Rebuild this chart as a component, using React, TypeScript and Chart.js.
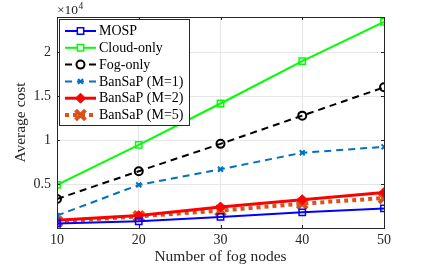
import React, { useEffect, useRef } from "react";
import { Chart, registerables } from "chart.js";
import { drawPoint } from "chart.js/helpers";

Chart.register(...registerables);

const fogNodes = [10, 20, 30, 40, 50];
const mosp = [510, 770, 1260, 1780, 2230];
const cloudOnly = [4900, 9460, 14160, 18980, 23450];
const fogOnly = [3300, 6460, 9570, 12780, 16000];
const bansapM1 = [1410, 4900, 6680, 8560, 9230];
const bansapM2 = [880, 1410, 2390, 3220, 4040];
const bansapM5 = [730, 1330, 1980, 2770, 3410];
const yTicks = [5000, 10000, 15000, 20000];
const xTicks = [10, 20, 30, 40, 50];

const FONT = "'Liberation Serif', 'Times New Roman', serif";

type S = {
  label: string;
  data: number[];
  color: string;
  width: number;
  dash: number[];
  style: string;
  radius: number;
  fill: boolean;
  pw: number;
};

const series: S[] = [
  { label: "MOSP", data: mosp, color: "#0000ff", width: 2, dash: [], style: "rect", radius: 4.5, fill: false, pw: 1.5 },
  { label: "Cloud-only", data: cloudOnly, color: "#00ff00", width: 2, dash: [], style: "rect", radius: 4.5, fill: false, pw: 1.5 },
  { label: "Fog-only", data: fogOnly, color: "#000000", width: 2, dash: [7, 5], style: "circle", radius: 4, fill: false, pw: 2 },
  { label: "BanSaP (M=1)", data: bansapM1, color: "#0072BD", width: 2, dash: [7, 5], style: "crossRot", radius: 3.5, fill: false, pw: 2 },
  { label: "BanSaP (M=2)", data: bansapM2, color: "#ff0000", width: 3, dash: [], style: "rectRot", radius: 5, fill: true, pw: 1 },
  { label: "BanSaP (M=5)", data: bansapM5, color: "#D95319", width: 4, dash: [4, 4], style: "crossRot", radius: 7, fill: false, pw: 4 },
];

const decorPlugin = {
  id: "decor",
  afterDraw(chart: any) {
    const { ctx, chartArea: a, scales } = chart;
    ctx.save();
    ctx.strokeStyle = "#262626";
    ctx.lineWidth = 1;
    ctx.strokeRect(a.left + 0.5, a.top + 0.5, a.right - a.left, a.bottom - a.top);
    ctx.beginPath();
    for (const t of xTicks) {
      const x = Math.round(scales.x.getPixelForValue(t)) + 0.5;
      ctx.moveTo(x, a.bottom); ctx.lineTo(x, a.bottom - 3);
      ctx.moveTo(x, a.top); ctx.lineTo(x, a.top + 3);
    }
    for (const t of yTicks) {
      const y = Math.round(scales.y.getPixelForValue(t)) + 0.5;
      ctx.moveTo(a.left, y); ctx.lineTo(a.left + 3, y);
      ctx.moveTo(a.right, y); ctx.lineTo(a.right - 3, y);
    }
    ctx.stroke();

    ctx.fillStyle = "#262626";
    ctx.textBaseline = "alphabetic";
    ctx.textAlign = "left";
    ctx.font = `13.5px ${FONT}`;
    ctx.fillText("\u00d710", a.left, 14);
    const w = ctx.measureText("\u00d710").width;
    ctx.font = `9.5px ${FONT}`;
    ctx.fillText("4", a.left + w + 0.5, 8.5);

    ctx.font = `15.5px ${FONT}`;
    ctx.textAlign = "center";
    ctx.textBaseline = "middle";
    ctx.fillText("Number of fog nodes", (a.left + a.right) / 2, 257);
    ctx.save();
    ctx.translate(21, (a.top + a.bottom) / 2);
    ctx.rotate(-Math.PI / 2);
    ctx.fillText("Average cost", 0, 0);
    ctx.restore();

    const lx = 59, ly = 19, lw = 130, lh = 106;
    ctx.fillStyle = "#ffffff";
    ctx.fillRect(lx, ly, lw, lh);
    ctx.strokeStyle = "#262626";
    ctx.lineWidth = 1;
    ctx.strokeRect(lx + 0.5, ly + 0.5, lw, lh);
    series.forEach((s, i) => {
      const y = 31 + i * 16.8;
      ctx.save();
      ctx.strokeStyle = s.color;
      ctx.lineWidth = s.width;
      ctx.setLineDash(s.dash);
      ctx.beginPath();
      ctx.moveTo(65, y);
      ctx.lineTo(96, y);
      ctx.stroke();
      ctx.setLineDash([]);
      ctx.strokeStyle = s.color;
      ctx.fillStyle = s.fill ? s.color : "#ffffff";
      ctx.lineWidth = s.pw;
      drawPoint(ctx, { pointStyle: s.style as any, radius: s.radius, rotation: 0, borderWidth: s.pw }, 80.5, y);
      ctx.restore();
      ctx.fillStyle = "#000000";
      ctx.font = `14px ${FONT}`;
      ctx.textAlign = "left";
      ctx.textBaseline = "middle";
      ctx.fillText(s.label, 99, y + 0.5);
    });
    ctx.restore();
  },
};

export default function App() {
  const ref = useRef<HTMLCanvasElement>(null);
  useEffect(() => {
    if (!ref.current) return;
    const chart = new Chart(ref.current, {
      type: "line",
      data: {
        datasets: series.map((s) => ({
          label: s.label,
          data: fogNodes.map((x, i) => ({ x, y: s.data[i] })),
          borderColor: s.color,
          backgroundColor: s.fill ? s.color : "rgba(255,255,255,0)",
          borderWidth: s.width,
          borderDash: s.dash,
          pointStyle: s.style as any,
          pointRadius: s.radius,
          pointBorderWidth: s.pw,
          pointBackgroundColor: s.fill ? s.color : "rgba(255,255,255,0)",
          pointBorderColor: s.color,
          tension: 0,
          fill: false,
        })),
      },
      options: {
        animation: false,
        responsive: false,
        maintainAspectRatio: false,
        layout: { padding: { left: 0, top: 17, right: 41, bottom: 0 } },
        plugins: { legend: { display: false }, tooltip: { enabled: false } },
        scales: {
          x: {
            type: "linear",
            min: 10,
            max: 50,
            afterBuildTicks: (sc: any) => { sc.ticks = xTicks.map((v) => ({ value: v })); },
            afterFit: (sc: any) => { sc.height = 41; },
            ticks: { color: "#262626", font: { family: FONT, size: 14 }, padding: 4, maxRotation: 0, callback: (v: any) => String(v) },
            grid: { color: "#e6e6e6", drawTicks: false },
            border: { display: false },
          },
          y: {
            type: "linear",
            min: 0,
            max: 24000,
            afterBuildTicks: (sc: any) => { sc.ticks = yTicks.map((v) => ({ value: v })); },
            afterFit: (sc: any) => { sc.width = 57; },
            ticks: { color: "#262626", font: { family: FONT, size: 14 }, padding: 6, callback: (v: any) => String(Number(v) / 10000) },
            grid: { color: "#e6e6e6", drawTicks: false },
            border: { display: false },
          },
        },
      },
      plugins: [decorPlugin],
    });
    return () => chart.destroy();
  }, []);
  return (
    <div style={{ position: "fixed", left: 0, top: 0, width: 425, height: 269, background: "#fff" }}>
      <canvas ref={ref} width={425} height={269} style={{ width: 425, height: 269 }} />
    </div>
  );
}
